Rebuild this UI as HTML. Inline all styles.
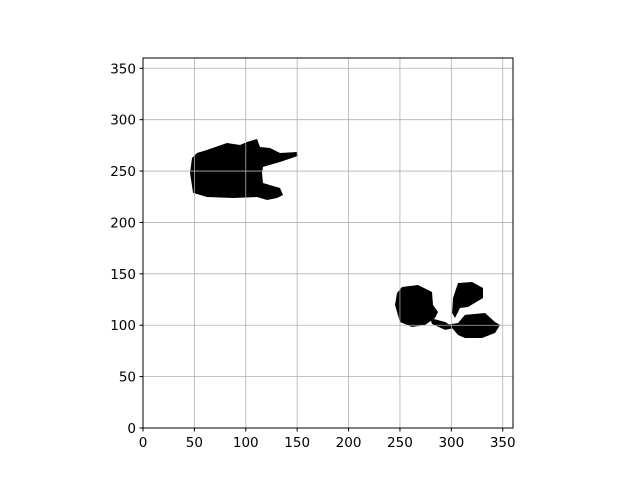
<!DOCTYPE html>
<html><head><meta charset="utf-8"><style>html,body{margin:0;padding:0;background:#fff}svg{display:block}</style></head>
<body>
<svg id="chart" width="640" height="480" xmlns="http://www.w3.org/2000/svg" font-family="DejaVu Sans, Liberation Sans, sans-serif" font-size="13.5">
<g id="marks"></g>
<g id="grid"></g>
<rect x="143" y="58" width="370" height="370" fill="none" stroke="#000" stroke-width="1"/>
<g id="ticks"></g>
</svg>
<script>
const xTicks=[0,50,100,150,200,250,300,350];
const yTicks=[0,50,100,150,200,250,300,350];
const blobLeft=[[52.5,267.6],[62,270.5],[81.7,277.3],[94.4,275.4],[101.2,278.3],[110.9,281.2],[113.8,273.4],[123.6,272.4],[133.3,267.6],[149.8,268.5],[150.8,264.7],[133.3,258.8],[116.8,254],[115.8,248.1],[116.8,238.4],[133.3,233.5],[136.2,226.7],[130.4,223.8],[120.7,221.8],[110.9,224.8],[87.6,223.8],[62.3,224.8],[48.7,228.7],[45.7,248.1],[47.7,262.7]];
const blobRightA=[[252,137.2],[267.6,139.1],[281.2,132.3],[282.2,119.7],[287,112.9],[284.1,107],[274.4,100.2],[261.7,98.3],[250,103.1],[245.2,119.7],[247.1,131.4]];
const blobRightB=[[306.5,141.1],[320.1,142.1],[330.8,136.2],[330.8,126.5],[316.2,117.7],[308.4,116.8],[303.6,107],[300.7,111.9],[301.6,126.5]];
const blobRightC=[[313.3,110],[332.8,111.9],[342.5,103.1],[347.4,100.2],[342.5,92.4],[329.8,87.6],[313.3,87.6],[306.5,90.5],[300.7,97.3],[291.9,97.3],[293.9,100.2],[306.5,102.2]];
const blobConnector=[[279.3,107],[293.9,103.1],[303.6,97.3],[293.9,95.4],[281.2,101.2]];
const X0=143,Y0=428,W=370,H=370,MAX=360;
const sx=v=>X0+v/MAX*W, sy=v=>Y0-v/MAX*H;
const NS='http://www.w3.org/2000/svg';
const marks=document.getElementById('marks');
[['blob-left',blobLeft],['blob-right-a',blobRightA],['blob-right-b',blobRightB],['blob-right-c',blobRightC],['blob-connector',blobConnector]].forEach(([n,pts])=>{
 const p=document.createElementNS(NS,'polygon');
 p.setAttribute('points',pts.map(q=>sx(q[0]).toFixed(1)+','+sy(q[1]).toFixed(1)).join(' '));
 p.setAttribute('fill','#000');
 
 
 marks.appendChild(p);
});
const grid=document.getElementById('grid'), ticks=document.getElementById('ticks');
xTicks.forEach(v=>{
 const x=sx(v);
 const l=document.createElementNS(NS,'line');
 l.setAttribute('x1',x);l.setAttribute('x2',x);l.setAttribute('y1',58);l.setAttribute('y2',428);
 l.setAttribute('stroke','#b0b0b0');l.setAttribute('stroke-width','0.8');
 
 
 grid.appendChild(l);
 const t=document.createElementNS(NS,'line');
 t.setAttribute('x1',x);t.setAttribute('x2',x);t.setAttribute('y1',428);t.setAttribute('y2',431.5);t.setAttribute('stroke','#000');
 
 
 ticks.appendChild(t);
 const s=document.createElementNS(NS,'text');
 s.setAttribute('x',x);s.setAttribute('y',447);s.setAttribute('text-anchor','middle');s.textContent=v;
 
 
 ticks.appendChild(s);
});
yTicks.forEach(v=>{
 const y=sy(v);
 const l=document.createElementNS(NS,'line');
 l.setAttribute('x1',143);l.setAttribute('x2',513);l.setAttribute('y1',y);l.setAttribute('y2',y);
 l.setAttribute('stroke','#b0b0b0');l.setAttribute('stroke-width','0.8');
 
 
 grid.appendChild(l);
 const t=document.createElementNS(NS,'line');
 t.setAttribute('x1',139.5);t.setAttribute('x2',143);t.setAttribute('y1',y);t.setAttribute('y2',y);t.setAttribute('stroke','#000');
 
 
 ticks.appendChild(t);
 const s=document.createElementNS(NS,'text');
 s.setAttribute('x',136);s.setAttribute('y',y+5);s.setAttribute('text-anchor','end');s.textContent=v;
 
 
 ticks.appendChild(s);
});
</script>
</body></html>
